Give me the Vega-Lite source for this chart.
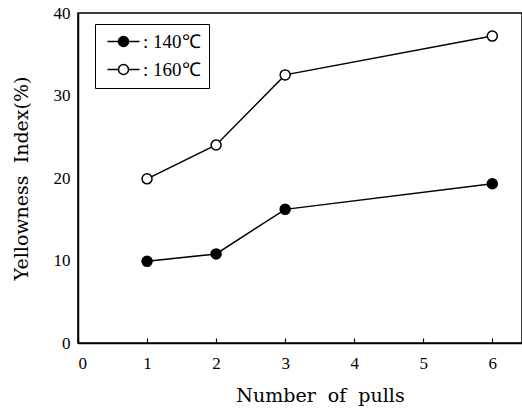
{
  "$schema": "https://vega.github.io/schema/vega-lite/v6.json",
  "autosize": "none",
  "width": 444,
  "height": 330,
  "padding": {"left": 78, "top": 13, "right": 0, "bottom": 68},
  "background": "white",
  "config": {
    "view": {"stroke": "black", "strokeWidth": 1.5},
    "font": "DejaVu Serif",
    "axis": {
      "domainColor": "black",
      "domainWidth": 1.5,
      "labelFont": "Liberation Serif",
      "labelFontSize": 17,
      "labelColor": "black",
      "titleFont": "DejaVu Serif",
      "titleFontSize": 19,
      "titleFontWeight": "normal",
      "titleColor": "black",
      "grid": false
    }
  },
  "data": {
    "values": [
      {"pulls": 1, "yi": 9.9, "temp": ": 140℃"},
      {"pulls": 2, "yi": 10.8, "temp": ": 140℃"},
      {"pulls": 3, "yi": 16.2, "temp": ": 140℃"},
      {"pulls": 6, "yi": 19.3, "temp": ": 140℃"},
      {"pulls": 1, "yi": 19.9, "temp": ": 160℃"},
      {"pulls": 2, "yi": 24.0, "temp": ": 160℃"},
      {"pulls": 3, "yi": 32.5, "temp": ": 160℃"},
      {"pulls": 6, "yi": 37.2, "temp": ": 160℃"}
    ]
  },
  "encoding": {
    "x": {
      "field": "pulls",
      "type": "quantitative",
      "scale": {"domain": [0, 6.43], "nice": false, "zero": true},
      "axis": {
        "title": "Number\u00a0\u00a0of\u00a0\u00a0pulls",
        "values": [0, 1, 2, 3, 4, 5, 6],
        "format": "d",
        "tickColor": "black",
        "tickWidth": 1.2,
        "tickSize": -5,
        "labelPadding": 17,
        "titlePadding": 15,
        "titleX": 242
      }
    },
    "y": {
      "field": "yi",
      "type": "quantitative",
      "scale": {"domain": [0, 40], "nice": false},
      "axis": {
        "title": "Yellowness\u00a0\u00a0Index(%)",
        "values": [0, 10, 20, 30, 40],
        "ticks": false,
        "labelPadding": 8,
        "titlePadding": 22
      }
    }
  },
  "layer": [
    {
      "mark": {"type": "line", "color": "black", "strokeWidth": 1.5},
      "encoding": {"detail": {"field": "temp"}}
    },
    {
      "mark": {"type": "point", "shape": "circle", "size": 100, "stroke": "black", "strokeWidth": 1.5, "opacity": 1, "filled": false},
      "encoding": {
        "fill": {
          "field": "temp",
          "type": "nominal",
          "scale": {"domain": [": 140℃", ": 160℃"], "range": ["black", "white"]},
          "legend": {
            "title": null,
            "orient": "none",
            "legendX": 17,
            "legendY": 11,
            "strokeColor": "black",
            "padding": 8,
            "symbolType": "M-3.2,0H-1M1,0H3.2M1,0A1,1 0 1 1 -1,0A1,1 0 1 1 1,0Z",
            "symbolSize": 100,
            "symbolStrokeColor": "black",
            "symbolStrokeWidth": 1.5,
            "symbolOffset": 11,
            "labelOffset": 10,
            "labelFont": "Liberation Serif",
            "labelFontSize": 19,
            "labelColor": "black",
            "rowPadding": 8,
            "encode": {"legend": {"update": {"strokeWidth": {"value": 1.5}}}}
          }
        }
      }
    }
  ]
}
